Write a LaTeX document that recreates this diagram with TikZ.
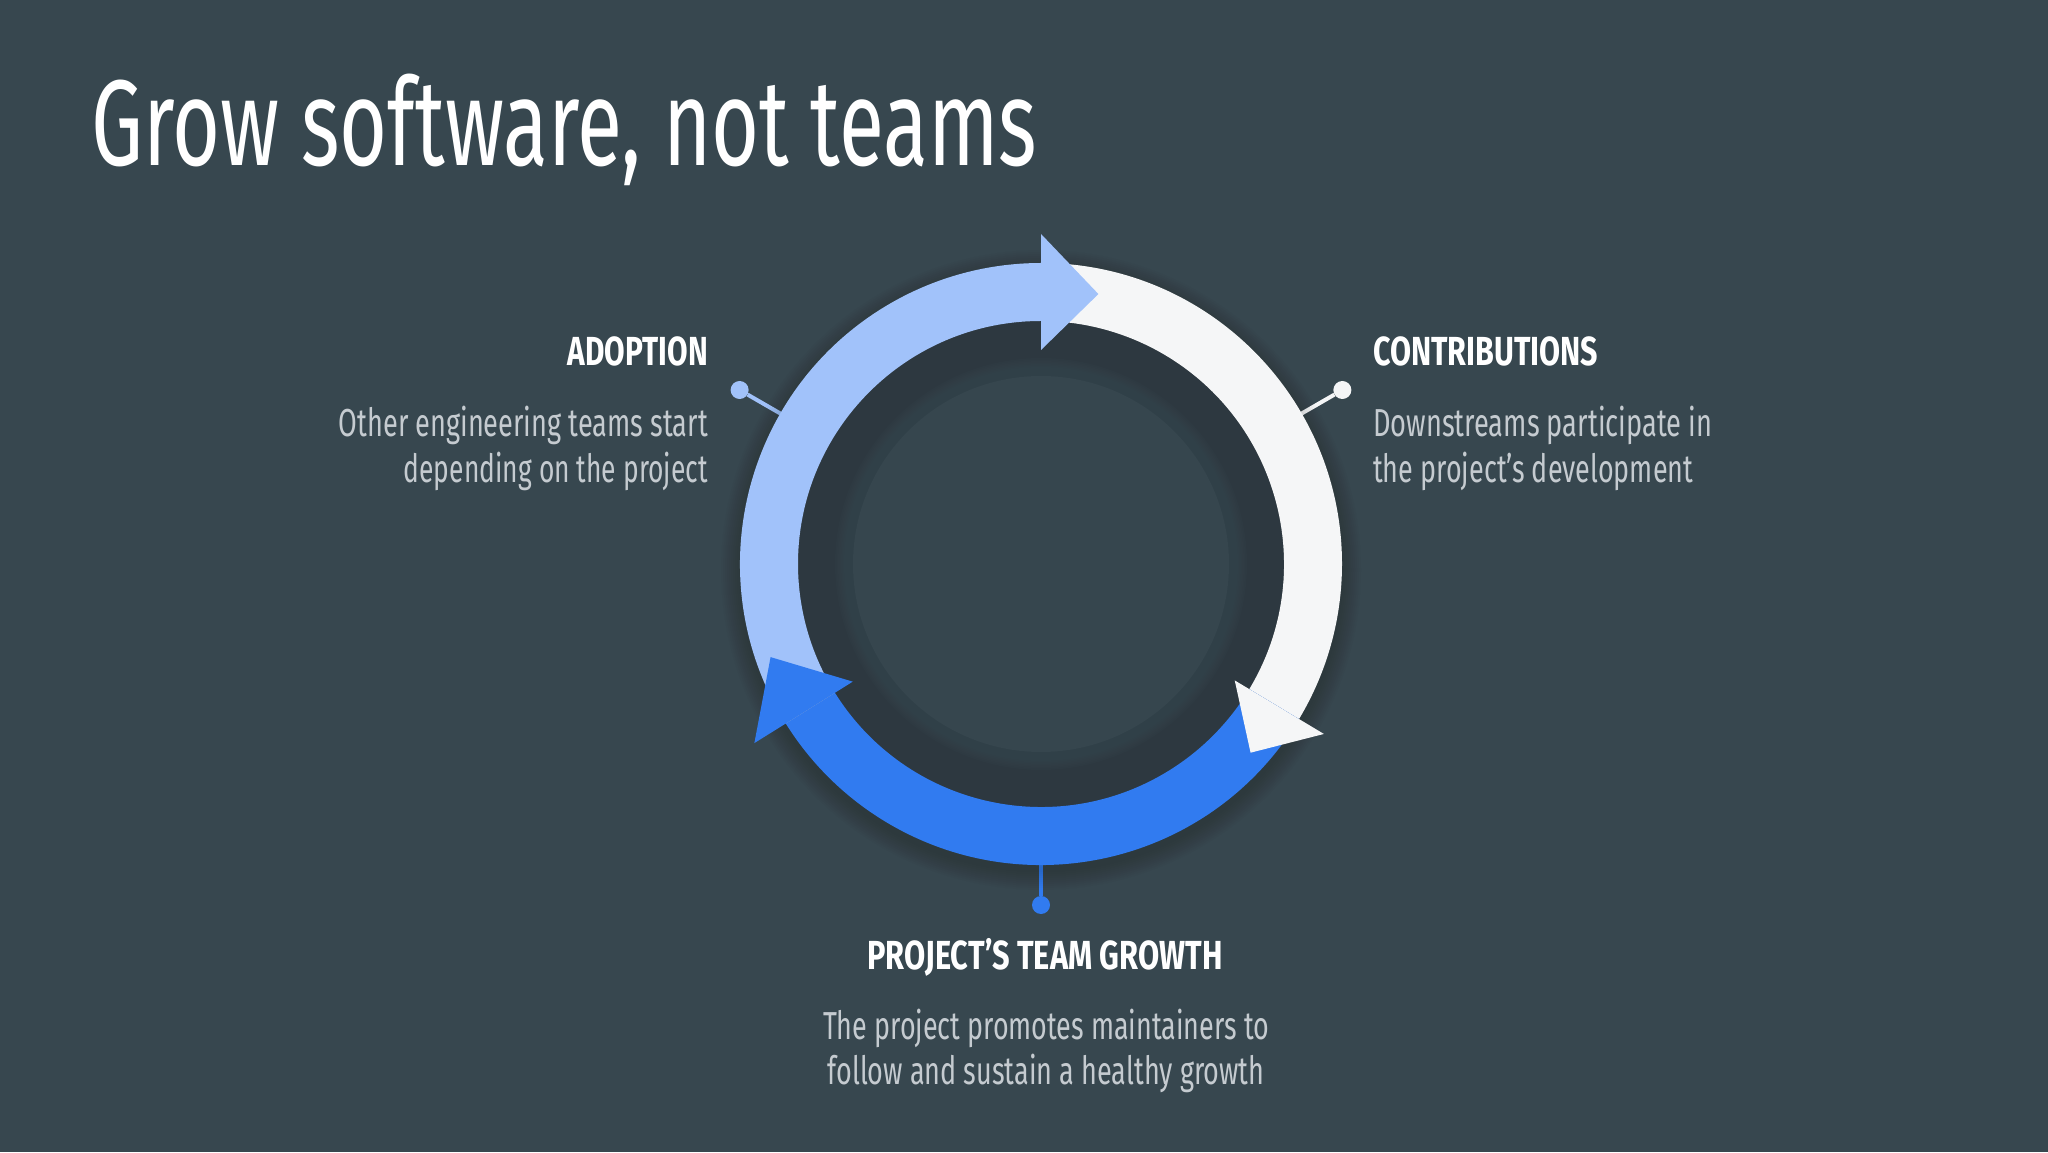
\documentclass[tikz,border=0pt]{standalone}
\usepackage{fontspec}
\usepackage{graphicx}
\setmainfont{Fira Sans}
\newfontfamily\titlefont{Fira Sans}
\newfontfamily\headfont{Fira Sans}
\newfontfamily\bodyfont{Fira Sans}
\definecolor{bg}{HTML}{37474F}
\definecolor{ringdark}{HTML}{2D3840}
\definecolor{innerdisk}{HTML}{36464E}
\definecolor{lightblue}{HTML}{A1C2FA}
\definecolor{offwhite}{HTML}{F5F6F7}
\definecolor{brightblue}{HTML}{317BF0}
\definecolor{bodygray}{HTML}{C5CBD0}
\newcommand\fitw[2]{\resizebox{#1}{\height}{#2}}
\begin{document}
\begin{tikzpicture}[x=1pt,y=1pt,
  headtxt/.style={font=\headfont\bfseries\fontsize{40.6}{44}\selectfont, text=white, inner sep=0pt},
  bodytxt/.style={font=\bodyfont\fontsize{39}{46}\selectfont, text=bodygray, inner sep=0pt},
  dot/.style={circle, inner sep=0pt, minimum size=18pt},
  link/.style={line width=4pt}]
\fill[bg] (0,0) rectangle (2048,1152);
\useasboundingbox (0,0) rectangle (2048,1152);

\node[anchor=base west, inner sep=0pt, text=white, font=\titlefont\fontsize{122}{130}\selectfont] (title) at (91,986) {\fitw{946pt}{Grow software, not teams}};

\begin{scope}[shift={(1041,588)}]
  % dots and connectors
  \node[dot, fill=lightblue] (adoptDot) at (150:348pt) {};
  \node[dot, fill=offwhite] (contribDot) at (30:348pt) {};
  \node[dot, fill=brightblue] (growDot) at (270:341pt) {};
  \coordinate (adoptEdge) at (150:296pt);
  \coordinate (contribEdge) at (30:296pt);
  \coordinate (growEdge) at (270:296pt);
  \draw[link, lightblue] (adoptEdge) -- (adoptDot);
  \draw[link, offwhite] (contribEdge) -- (contribDot);
  \draw[link, brightblue] (growEdge) -- (growDot);

  % soft shadow
  \foreach \i in {1,...,10}
    \fill[black, opacity=0.014] (0,-6) circle[radius={(300+2*\i)*1pt}];
  % inner dark ring and disk
  \fill[ringdark] (0,0) circle[radius=243pt];
  \foreach \i in {0,...,12}
    \fill[innerdisk, opacity=0.15] (0,0) circle[radius={(188+1.5*\i)*1pt}];
  \fill[innerdisk] (0,0) circle[radius=188pt];

  % arc bodies
  \fill[offwhite] (90:301pt) arc[start angle=90, end angle=-31, radius=301pt]
     -- (-31:243pt) arc[start angle=-31, end angle=90, radius=243pt] -- cycle;
  \fill[brightblue] (-31:301pt) arc[start angle=-31, end angle=-148, radius=301pt]
     -- (-148:243pt) arc[start angle=-148, end angle=-31, radius=243pt] -- cycle;
  \fill[lightblue] (212:301pt) arc[start angle=212, end angle=90, radius=301pt]
     -- (90:243pt) arc[start angle=90, end angle=212, radius=243pt] -- cycle;

  % heads
  \fill[lightblue] (90:214pt) -- (90:330pt) -- (78:276pt) -- cycle;
  \fill[offwhite] (-31:226pt) -- (-31:330pt) -- (-42:282pt) -- cycle;
  \fill[brightblue] (212:222pt) -- (212:338pt) -- (199:286pt) -- cycle;
\end{scope}

% labels
\node[headtxt, anchor=base east] (adoptTitle) at (708,786) {\fitw{140pt}{ADOPTION}};
\node[bodytxt, anchor=base east] (adoptLineA) at (708,715) {\fitw{369pt}{Other engineering teams start}};
\node[bodytxt, anchor=base east] (adoptLineB) at (708,669) {\fitw{304pt}{depending on the project}};

\node[headtxt, anchor=base west] (contribTitle) at (1373,786) {\fitw{225pt}{CONTRIBUTIONS}};
\node[bodytxt, anchor=base west] (contribLineA) at (1373,715) {\fitw{339pt}{Downstreams participate in}};
\node[bodytxt, anchor=base west] (contribLineB) at (1373,669) {\fitw{320pt}{the project’s development}};

\node[headtxt, anchor=base] (growTitle) at (1045,183) {\fitw{355pt}{PROJECT’S TEAM GROWTH}};
\node[bodytxt, anchor=base] (growLineA) at (1046,113) {\fitw{446pt}{The project promotes maintainers to}};
\node[bodytxt, anchor=base] (growLineB) at (1046,68) {\fitw{437pt}{follow and sustain a healthy growth}};
\end{tikzpicture}
\end{document}
